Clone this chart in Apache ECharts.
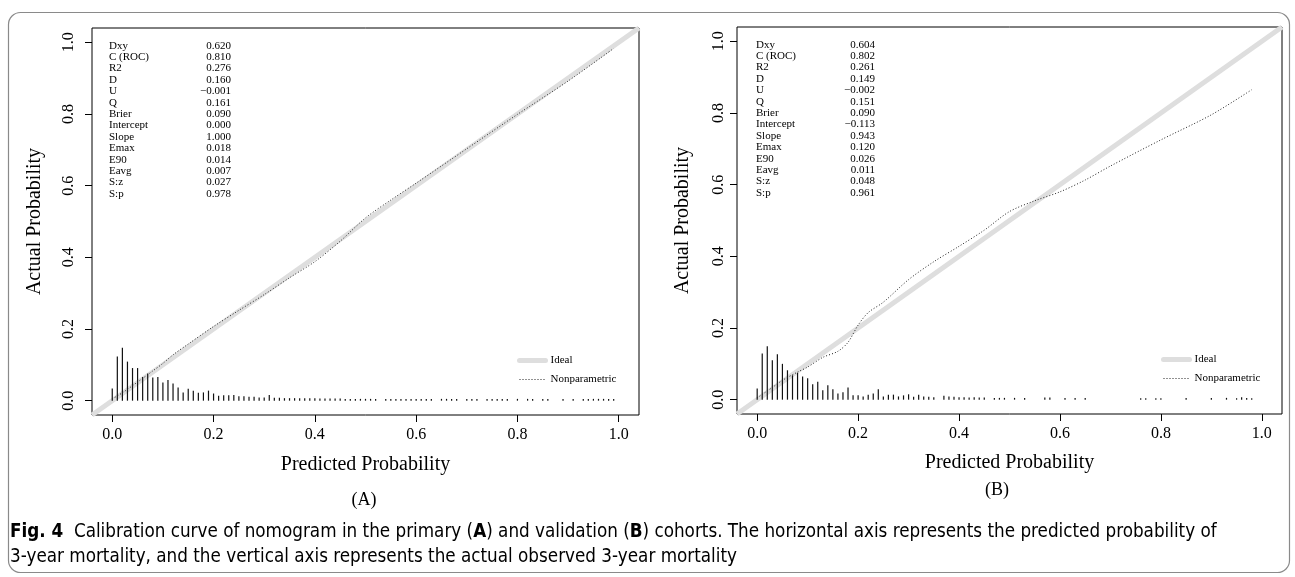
<!DOCTYPE html>
<html>
<head>
<meta charset="utf-8">
<script src="https://cdn.jsdelivr.net/npm/echarts@6/dist/echarts.min.js"></script>
<style>
    html, body {margin: 0; padding: 0; background: #fff;}
    #chart {width: 1295px; height: 577px;}
</style>
</head>
<body>
<div id="chart"></div>
<script>
var SERIF = '"Liberation Serif", "Times New Roman", serif';
var SANS = '"Liberation Sans Narrow", "DejaVu Sans Condensed", "Noto Sans", sans-serif';

var tickValues = [0, 0.2, 0.4, 0.6, 0.8, 1.0];

var statNames = ['Dxy', 'C (ROC)', 'R2', 'D', 'U', 'Q', 'Brier', 'Intercept', 'Slope', 'Emax', 'E90', 'Eavg', 'S:z', 'S:p'];
var statValuesA = ['0.620', '0.810', '0.276', '0.160', '\u22120.001', '0.161', '0.090', '0.000', '1.000', '0.018', '0.014', '0.007', '0.027', '0.978'];
var statValuesB = ['0.604', '0.802', '0.261', '0.149', '\u22120.002', '0.151', '0.090', '\u22120.113', '0.943', '0.120', '0.026', '0.011', '0.048', '0.961'];

// nonparametric calibration curves
var curveXA = [0, 0.02, 0.05, 0.08, 0.10, 0.12, 0.15, 0.20, 0.25, 0.30, 0.35, 0.40, 0.45, 0.50, 0.55, 0.60, 0.70, 0.80, 0.90, 0.99];
var curveYA = [0.005, 0.022, 0.052, 0.083, 0.104, 0.128, 0.158, 0.207, 0.252, 0.296, 0.343, 0.388, 0.445, 0.510, 0.560, 0.607, 0.703, 0.799, 0.892, 0.983];
var curveXB = [0, 0.03, 0.05, 0.08, 0.10, 0.13, 0.16, 0.18, 0.20, 0.22, 0.25, 0.30, 0.35, 0.40, 0.45, 0.50, 0.55, 0.60, 0.65, 0.70, 0.80, 0.90, 0.98];
var curveYB = [0.005, 0.034, 0.054, 0.077, 0.091, 0.118, 0.135, 0.160, 0.208, 0.243, 0.272, 0.335, 0.385, 0.428, 0.473, 0.525, 0.555, 0.580, 0.613, 0.652, 0.725, 0.795, 0.865];

// distribution of predicted probabilities (spike histogram)
var histXA = [0.00, 0.01, 0.02, 0.03, 0.04, 0.05, 0.06, 0.07, 0.08, 0.09, 0.10, 0.11, 0.12, 0.13, 0.14, 0.15, 0.16, 0.17, 0.18, 0.19,
    0.20, 0.21, 0.22, 0.23, 0.24, 0.25, 0.26, 0.27, 0.28, 0.29, 0.30, 0.31, 0.32, 0.33, 0.34, 0.35, 0.36, 0.37, 0.38, 0.39,
    0.40, 0.41, 0.42, 0.43, 0.44, 0.45, 0.46, 0.47, 0.48, 0.49, 0.50, 0.51, 0.52, 0.54, 0.55, 0.56, 0.57, 0.58, 0.59, 0.60,
    0.61, 0.62, 0.63, 0.65, 0.66, 0.67, 0.68, 0.70, 0.71, 0.72, 0.74, 0.75, 0.76, 0.77, 0.78, 0.80, 0.82, 0.83, 0.85, 0.86,
    0.89, 0.91, 0.93, 0.94, 0.95, 0.96, 0.97, 0.98, 0.99];
var histHA = [0.034, 0.123, 0.148, 0.109, 0.091, 0.091, 0.066, 0.076, 0.065, 0.066, 0.051, 0.058, 0.048, 0.037, 0.023, 0.033, 0.028, 0.022, 0.023, 0.028,
    0.020, 0.014, 0.015, 0.015, 0.016, 0.012, 0.012, 0.011, 0.011, 0.009, 0.009, 0.016, 0.008, 0.008, 0.007, 0.007, 0.007, 0.007, 0.007, 0.007,
    0.007, 0.006, 0.006, 0.006, 0.006, 0.006, 0.005, 0.005, 0.005, 0.005, 0.005, 0.005, 0.005, 0.005, 0.005, 0.005, 0.005, 0.005, 0.005, 0.005,
    0.005, 0.005, 0.005, 0.005, 0.005, 0.005, 0.005, 0.005, 0.005, 0.005, 0.005, 0.005, 0.005, 0.005, 0.005, 0.005, 0.005, 0.005, 0.005, 0.005,
    0.005, 0.005, 0.005, 0.005, 0.005, 0.005, 0.005, 0.005, 0.005];
var histXB = [0.00, 0.01, 0.02, 0.03, 0.04, 0.05, 0.06, 0.07, 0.08, 0.09, 0.10, 0.11, 0.12, 0.13, 0.14, 0.15, 0.16, 0.17, 0.18, 0.19,
    0.20, 0.21, 0.22, 0.23, 0.24, 0.25, 0.26, 0.27, 0.28, 0.29, 0.30, 0.31, 0.32, 0.33, 0.34, 0.35, 0.37, 0.38, 0.39, 0.40,
    0.41, 0.42, 0.43, 0.44, 0.45, 0.47, 0.48, 0.49, 0.51, 0.53, 0.57, 0.58, 0.61, 0.63, 0.65, 0.76, 0.77, 0.79, 0.80, 0.85,
    0.90, 0.93, 0.95, 0.96, 0.97, 0.98];
var histHB = [0.031, 0.129, 0.149, 0.110, 0.127, 0.100, 0.082, 0.068, 0.075, 0.065, 0.060, 0.043, 0.050, 0.026, 0.040, 0.029, 0.017, 0.021, 0.034, 0.012,
    0.012, 0.009, 0.014, 0.017, 0.029, 0.009, 0.014, 0.014, 0.009, 0.012, 0.015, 0.008, 0.014, 0.009, 0.008, 0.007, 0.011, 0.009, 0.008, 0.007,
    0.007, 0.006, 0.007, 0.006, 0.006, 0.005, 0.005, 0.005, 0.005, 0.005, 0.006, 0.006, 0.005, 0.005, 0.005, 0.004, 0.004, 0.004, 0.004, 0.005,
    0.005, 0.005, 0.004, 0.007, 0.005, 0.004];

function pairs(xs, ys) {
    var out = [];
    for (var i = 0; i < xs.length; i++) {
        out.push([xs[i], ys[i]]);
    }
    return out;
}

function fmt(v) {
    return v.toFixed(1);
}

function xAxisFor(idx, nameGap) {
    return {
        type: 'value', gridIndex: idx, min: -0.04, max: 1.04,
        name: 'Predicted Probability', nameLocation: 'middle', nameGap: nameGap,
        nameTextStyle: {fontFamily: SERIF, fontSize: 20, color: '#000'},
        axisLine: {show: false, onZero: false},
        axisTick: {show: true, customValues: tickValues, length: 7, lineStyle: {color: '#000', width: 1}},
        axisLabel: {customValues: tickValues, formatter: fmt, margin: 12, fontFamily: SERIF, fontSize: 16, color: '#000'},
        splitLine: {show: false}
    };
}

function yAxisFor(idx, nameGap, labelMargin) {
    return {
        type: 'value', gridIndex: idx, min: -0.04, max: 1.04,
        name: 'Actual Probability', nameLocation: 'middle', nameGap: nameGap,
        nameTextStyle: {fontFamily: SERIF, fontSize: 20, color: '#000'},
        axisLine: {show: false, onZero: false},
        axisTick: {show: true, customValues: tickValues, length: 7, lineStyle: {color: '#000', width: 1}},
        axisLabel: {customValues: tickValues, formatter: fmt, rotate: 90, margin: labelMargin, fontFamily: SERIF, fontSize: 16, color: '#000'},
        splitLine: {show: false}
    };
}

function seriesFor(idx, curveX, curveY, histX, histY) {
    return [
        {
            name: 'Ideal', type: 'line', xAxisIndex: idx, yAxisIndex: idx,
            data: [[-0.04, -0.04], [1.04, 1.04]], symbol: 'none', silent: true,
            lineStyle: {color: '#dedede', width: 5}, z: 1
        },
        {
            name: 'Nonparametric', type: 'line', xAxisIndex: idx, yAxisIndex: idx,
            data: pairs(curveX, curveY), symbol: 'none', smooth: 0.3, silent: true,
            lineStyle: {color: '#222', width: 1, type: [1, 2]}, z: 3
        },
        {
            name: 'hist', type: 'bar', xAxisIndex: idx, yAxisIndex: idx,
            data: pairs(histX, histY), barWidth: 1.2, silent: true,
            itemStyle: {color: '#111'}, z: 2
        }
    ];
}

function legendFor(left, top) {
    return {
        left: left, top: top, orient: 'vertical', itemWidth: 26, itemHeight: 10, itemGap: 8,
        selectedMode: false,
        textStyle: {fontFamily: SERIF, fontSize: 11, color: '#000'},
        data: [
            {name: 'Ideal', itemStyle: {opacity: 0}, lineStyle: {width: 5, color: '#dedede', cap: 'round'}},
            {name: 'Nonparametric', itemStyle: {opacity: 0}, lineStyle: {width: 1, color: '#222'}}
        ]
    };
}

function statTexts(x, valueRight, y, values) {
    var font = '11px ' + SERIF;
    return [
        {type: 'text', x: x, y: y, style: {text: statNames.join('\n'), font: font, lineHeight: 11.4, fill: '#000', verticalAlign: 'top'}},
        {type: 'text', x: valueRight, y: y, style: {text: values.join('\n'), font: font, lineHeight: 11.4, fill: '#000', align: 'right', verticalAlign: 'top'}}
    ];
}

var chart = echarts.init(document.getElementById('chart'));

var caption1 = '{b|Fig. 4}  Calibration curve of nomogram in the primary ({b|A}) and validation ({b|B}) cohorts. The horizontal axis represents the predicted probability of';
var caption2 = '3-year mortality, and the vertical axis represents the actual observed 3-year mortality';
var captionRich = {b: {fontFamily: SANS, fontSize: 18.7, fontWeight: 'bold', fill: '#000'}};

var graphics = [
    {type: 'rect', shape: {x: 8.5, y: 12.5, width: 1281, height: 560, r: 12}, style: {fill: 'none', stroke: '#8a8a8a', lineWidth: 1.2}, silent: true},
    {type: 'text', x: 364, y: 500, style: {text: '(A)', font: '18px ' + SERIF, fill: '#000', align: 'center', verticalAlign: 'middle'}},
    {type: 'text', x: 997, y: 490, style: {text: '(B)', font: '18px ' + SERIF, fill: '#000', align: 'center', verticalAlign: 'middle'}},
    {type: 'text', x: 10, y: 532, style: {text: caption1, fontFamily: SANS, fontSize: 18.7, fill: '#000', verticalAlign: 'middle', rich: captionRich}},
    {type: 'text', x: 10, y: 557, style: {text: caption2, fontFamily: SANS, fontSize: 18.7, fill: '#000', verticalAlign: 'middle'}}
].concat(statTexts(109, 231, 40, statValuesA)).concat(statTexts(756, 875, 39, statValuesB));

var option = {
    backgroundColor: '#fff',
    animation: false,
    grid: [
        {left: 92, top: 28, width: 547, height: 387, show: true, borderColor: '#000', borderWidth: 1, backgroundColor: 'transparent'},
        {left: 737, top: 27, width: 545, height: 387, show: true, borderColor: '#000', borderWidth: 1, backgroundColor: 'transparent'}
    ],
    xAxis: [xAxisFor(0, 40), xAxisFor(1, 39)],
    yAxis: [yAxisFor(0, 47, 15), yAxisFor(1, 44, 10)],
    legend: [legendFor(512, 350), legendFor(1156, 349)],
    series: seriesFor(0, curveXA, curveYA, histXA, histHA).concat(seriesFor(1, curveXB, curveYB, histXB, histHB)),
    graphic: graphics
};

chart.setOption(option);
</script>
</body>
</html>
